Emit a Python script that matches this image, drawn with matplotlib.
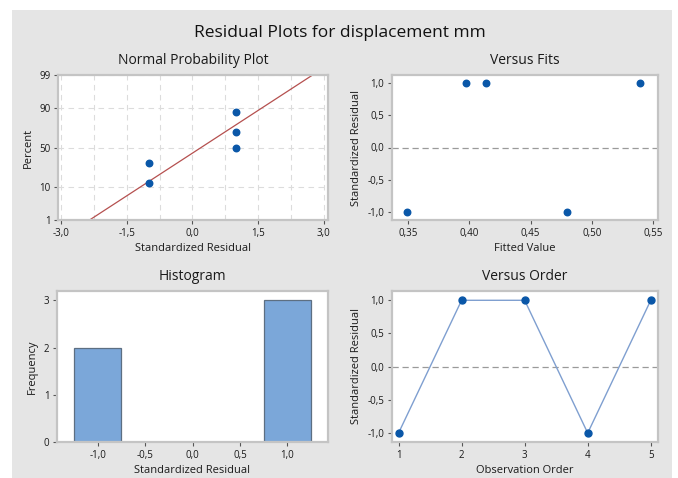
import numpy as np
import matplotlib
matplotlib.use("Agg")
import matplotlib.pyplot as plt
from matplotlib.patches import Rectangle
from matplotlib.ticker import FuncFormatter, MultipleLocator
from statistics import NormalDist

plt.rcParams['font.family'] = ['Open Sans', 'DejaVu Sans']

# --- Data ---
std_resid = [-1.0, 1.0, 1.0, -1.0, 1.0]          # in observation order
fitted = [0.3492, 0.3975, 0.4140, 0.4800, 0.5394]
fit_resid = [-1.0, 1.0, 1.0, -1.0, 1.0]
obs_order = [1, 2, 3, 4, 5]
hist_centers = [-1.0, 1.0]
hist_counts = [2, 3]
prob_ticks = [1, 10, 50, 90, 99]

BG = '#e5e5e5'
SPINE = '#c4c4c4'
DOT = '#0a57a8'
TXT = '#1a1a1a'

def comma(x, pos, fmt):
    return fmt.format(x).replace('.', ',')

def style_axes(ax):
    ax.set_facecolor('white')
    for s in ax.spines.values():
        s.set_color(SPINE)
        s.set_linewidth(1.6)
    ax.tick_params(labelsize=7, colors='#555555', labelcolor=TXT, length=3, width=0.8, pad=2.5)

def label(ax, title, xl, yl):
    ax.set_title(title, fontsize=10, color=TXT, pad=8)
    ax.set_xlabel(xl, fontsize=8, color=TXT, labelpad=3)
    ax.set_ylabel(yl, fontsize=8, color=TXT, labelpad=4)

fig = plt.figure(figsize=(6.78, 4.78), dpi=100)
fig.patch.set_facecolor('white')
fig.patches.append(Rectangle((12 / 678, 0), 660 / 678, 468 / 478, transform=fig.transFigure,
                             facecolor=BG, edgecolor='none', zorder=-10))

W, H = 678, 478
def add_ax(l, t, r, b):
    return fig.add_axes([l / W, 1 - b / H, (r - l) / W, (b - t) / H])

fig.text(340 / W, 1 - 33 / H, 'Residual Plots for displacement mm', ha='center', va='center',
         fontsize=12.5, color='#111111')

# --- Normal probability plot ---
nd = NormalDist()
ax1 = add_ax(58, 75, 328, 220)
style_axes(ax1)
srt = np.sort(std_resid)
n = len(srt)
ranks = (np.arange(1, n + 1) - 0.3) / (n + 0.4)
zq = [nd.inv_cdf(p) for p in ranks]
ax1.scatter(srt, zq, s=22, color=DOT, zorder=3)
mu, sd = np.mean(std_resid), np.std(std_resid, ddof=1)
zlim = (nd.inv_cdf(0.01), nd.inv_cdf(0.99))
ax1.plot([mu + zlim[0] * sd, mu + zlim[1] * sd], zlim, color='#b5504f', lw=0.9, zorder=2)
ax1.set_ylim(zlim)
ax1.set_xlim(-3.07, 3.1)
ax1.set_yticks([nd.inv_cdf(p / 100) for p in prob_ticks])
ax1.set_yticklabels([str(p) for p in prob_ticks])
ax1.xaxis.set_major_locator(MultipleLocator(1.5))
ax1.xaxis.set_minor_locator(MultipleLocator(0.75))
ax1.xaxis.set_major_formatter(FuncFormatter(lambda x, p: comma(x, p, '{:.1f}')))
ax1.tick_params(axis='x', which='minor', length=0)
ax1.grid(True, which='both', axis='x', ls=(0, (5, 4)), color='#dcdcdc', lw=0.8)
ax1.grid(True, which='major', axis='y', ls=(0, (5, 4)), color='#dcdcdc', lw=0.8)
label(ax1, 'Normal Probability Plot', 'Standardized Residual', 'Percent')

# --- Versus fits ---
ax2 = add_ax(392, 75, 658, 220)
style_axes(ax2)
ax2.scatter(fitted, fit_resid, s=22, color=DOT, zorder=3)
ax2.axhline(0, color='#9a9a9a', ls=(0, (5, 3)), lw=0.9)
ax2.set_xlim(0.337, 0.554)
ax2.set_ylim(-1.12, 1.12)
ax2.xaxis.set_major_locator(MultipleLocator(0.05))
ax2.yaxis.set_major_locator(MultipleLocator(0.5))
ax2.xaxis.set_major_formatter(FuncFormatter(lambda x, p: comma(x, p, '{:.2f}')))
ax2.yaxis.set_major_formatter(FuncFormatter(lambda x, p: comma(x, p, '{:.1f}')))
label(ax2, 'Versus Fits', 'Fitted Value', 'Standardized Residual')

# --- Histogram ---
ax3 = add_ax(57, 291, 328, 442)
style_axes(ax3)
ax3.bar(hist_centers, hist_counts, width=0.5, color='#7ba7d9', edgecolor='#5d6f82', lw=0.9)
ax3.set_xlim(-1.43, 1.43)
ax3.set_ylim(0, 3.2)
ax3.xaxis.set_major_locator(MultipleLocator(0.5))
ax3.yaxis.set_major_locator(MultipleLocator(1))
ax3.xaxis.set_major_formatter(FuncFormatter(lambda x, p: comma(x, p, '{:.1f}')))
label(ax3, 'Histogram', 'Standardized Residual', 'Frequency')

# --- Versus order ---
ax4 = add_ax(392, 291, 658, 442)
style_axes(ax4)
ax4.plot(obs_order, std_resid, color='#7f9fd0', lw=1.0, marker='o', ms=5,
         mfc=DOT, mec=DOT, zorder=3)
ax4.axhline(0, color='#9a9a9a', ls=(0, (5, 3)), lw=0.9)
ax4.set_xlim(0.896, 5.115)
ax4.set_ylim(-1.135, 1.14)
ax4.xaxis.set_major_locator(MultipleLocator(1))
ax4.yaxis.set_major_locator(MultipleLocator(0.5))
ax4.yaxis.set_major_formatter(FuncFormatter(lambda x, p: comma(x, p, '{:.1f}')))
label(ax4, 'Versus Order', 'Observation Order', 'Standardized Residual')

fig.savefig('out.png', dpi=100)
